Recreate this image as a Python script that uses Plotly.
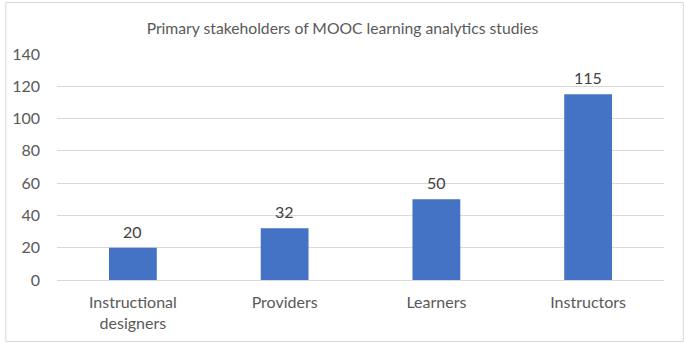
import plotly.graph_objects as go

categories = ["Instructional<br>designers", "Providers", "Learners", "Instructors"]
values = [20, 32, 50, 115]
y_ticks = [0, 20, 40, 60, 80, 100, 120, 140]

W, H = 685, 344
ml, mr, mt, mb = 53, 21, 54, 64
pw, ph = W - ml - mr, H - mt - mb

font_family = "Lato, 'Open Sans', sans-serif"

fig = go.Figure(go.Bar(
    x=categories, y=values,
    marker=dict(color="#4472C4", line=dict(width=0)),
    hoverinfo="x+y",
))

for c, v in zip(categories, values):
    fig.add_annotation(x=c, y=v, text=str(v), showarrow=False,
                       yanchor="bottom", yshift=5,
                       font=dict(size=16, color="#404040", family=font_family))

fig.update_layout(
    width=W, height=H,
    margin=dict(l=ml, r=mr, t=mt, b=mb),
    paper_bgcolor="white", plot_bgcolor="white",
    bargap=0.685,
    showlegend=False,
    title=dict(text="Primary stakeholders of MOOC learning analytics studies",
               x=0.5, xanchor="center", y=1 - 29 / H, yanchor="middle",
               font=dict(size=15.7, color="#595959", family=font_family)),
    font=dict(family=font_family, color="#595959", size=16),
    xaxis=dict(showgrid=False, showline=False, ticks="",
               ticklabelstandoff=11,
               tickfont=dict(size=16, color="#595959")),
    yaxis=dict(range=[0, 140], tickvals=y_ticks, showgrid=True,
               gridcolor="#d9d9d9", gridwidth=1, zeroline=True,
               zerolinecolor="#d9d9d9", zerolinewidth=1,
               ticks="", ticklabelstandoff=16,
               tickfont=dict(size=16, color="#595959")),
    shapes=[dict(type="rect", xref="paper", yref="paper",
                 x0=(1.5 - ml) / pw, x1=(W - 1.5 - ml) / pw,
                 y0=-(mb - 2.5) / ph, y1=1 + (mt - 2.5) / ph,
                 line=dict(color="#d9d9d9", width=1), fillcolor="rgba(0,0,0,0)",
                 layer="below")],
)

fig.write_html("out.html",
               config={"displayModeBar": False},
               post_script="document.body.style.margin='0';document.body.style.padding='0';document.body.style.overflow='hidden';")
